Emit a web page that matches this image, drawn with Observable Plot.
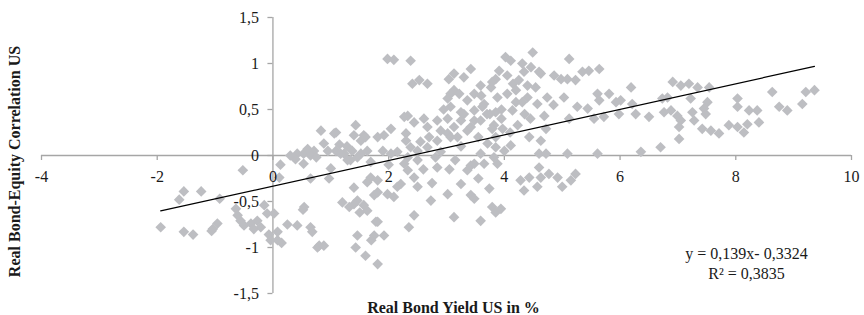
<!DOCTYPE html>
<html><head><meta charset="utf-8">
<script src="https://cdn.jsdelivr.net/npm/d3@7"></script>
<script src="https://cdn.jsdelivr.net/npm/@observablehq/plot@0.6"></script>
<style>body{margin:0;background:#fff} svg{display:block}</style>
</head><body><div id="chart"></div>
<script>
// Real bond yield US in % (x) and real bond-equity correlation US (y), same order
const bondYield = [
  -1.94,-1.54,-1.38,-1.04,-0.96,-1.54,-1.62,-1.24,-0.92,-0.52,
  -0.64,-0.61,-0.56,-0.50,-0.38,-0.27,-0.15,-0.33,-0.07,-0.04,
  -0.21,-0.10,0.02,0.08,-1.06,0.08,0.15,0.13,0.52,0.25,
  0.42,0.65,0.77,0.42,0.53,0.71,0.83,0.53,0.65,1.09,
  1.43,1.40,1.57,0.88,0.39,0.11,1.00,0.97,1.09,1.23,
  1.37,1.52,1.34,1.63,1.69,1.40,1.63,1.20,1.32,1.46,
  1.57,1.63,1.75,0.68,0.80,0.88,1.46,1.43,1.75,1.78,
  1.60,1.81,0.65,0.30,0.60,0.75,0.95,1.15,1.28,1.98,
  2.09,2.38,2.41,2.53,2.67,3.13,3.04,3.13,3.02,2.33,
  2.44,2.61,2.67,2.04,1.92,1.81,2.30,2.84,2.90,3.02,
  3.13,1.06,1.52,1.60,2.38,2.67,2.15,2.33,2.50,2.81,
  2.84,2.33,2.44,2.21,2.50,1.81,1.98,2.09,1.69,1.81,
  1.29,1.46,1.17,2.73,3.02,2.44,2.35,3.13,1.81,1.92,
  1.70,1.40,1.50,0.54,3.42,3.07,2.27,2.30,3.19,3.36,
  3.48,2.84,2.50,2.90,2.04,2.27,3.42,3.36,2.15,3.25,
  3.42,4.02,4.11,4.49,5.12,3.30,4.31,4.46,4.34,4.05,
  3.85,4.63,4.86,4.98,5.09,5.23,5.46,5.64,3.59,3.77,
  3.48,3.36,3.22,3.07,3.25,3.48,3.65,3.88,4.05,4.20,
  4.40,4.54,4.57,4.74,5.03,5.26,5.44,5.61,4.69,5.12,
  4.23,3.82,3.59,3.42,3.25,3.02,3.07,3.85,3.71,4.11,
  4.43,4.63,4.60,4.72,5.09,5.61,3.59,3.48,3.65,3.88,
  3.82,4.28,4.43,4.60,4.63,4.77,4.92,5.00,5.23,4.34,
  4.57,3.74,3.55,3.48,3.79,3.85,3.94,3.59,4.00,3.91,
  4.60,5.35,4.15,3.79,4.25,4.40,3.95,4.20,3.75,4.31,
  4.45,3.62,3.85,4.14,4.85,3.79,3.97,4.72,3.85,5.15,
  6.19,6.91,7.05,7.19,7.34,5.81,5.64,5.93,6.01,6.21,
  5.55,5.72,5.98,6.27,6.50,6.73,6.82,6.76,6.88,6.99,
  7.05,7.02,7.22,7.25,7.28,7.02,6.70,6.36,7.54,7.51,
  7.45,7.48,7.42,7.57,7.71,7.88,8.03,8.03,8.03,8.23,
  8.37,8.20,8.14,8.40,8.63,8.75,8.89,9.15,9.21,9.36,
  3.30,3.55,3.70,3.95,4.10,3.25,2.95,3.60,4.35,2.70,
  2.55,2.00,1.90,2.60,2.75,3.15,3.05
];
const correlation = [
  -0.78,-0.83,-0.86,-0.80,-0.74,-0.39,-0.48,-0.39,-0.47,-0.16,
  -0.58,-0.65,-0.71,-0.76,-0.74,-0.71,-0.54,-0.80,-0.86,-0.92,
  -0.78,-0.63,-0.63,-0.92,-0.82,-0.83,-0.95,-0.10,-0.59,-0.75,
  -0.76,-0.78,-1.00,0.02,0.02,0.05,0.27,-0.09,-0.25,0.25,
  0.33,0.22,0.22,0.13,-0.04,-0.24,-0.14,-0.25,0.05,0.02,
  0.05,0.02,-0.05,0.05,-0.07,-0.35,-0.29,-0.51,-0.56,-0.49,
  -0.54,-0.60,-0.43,-0.83,-0.98,-0.98,-0.87,-1.00,-0.87,-0.72,
  -1.09,-1.18,0.00,0.00,0.07,-0.02,0.05,0.12,0.10,1.05,
  1.04,1.03,0.78,0.82,0.78,0.89,0.83,0.71,0.62,0.43,
  0.36,0.40,0.31,0.29,0.22,0.20,0.24,0.38,0.27,0.24,
  0.31,0.24,0.16,0.20,0.09,0.09,0.04,-0.02,-0.05,-0.02,
  -0.13,-0.16,-0.24,-0.31,-0.34,-0.40,-0.42,-0.45,-0.24,-0.27,
  -0.05,-0.02,0.02,-0.49,-0.42,-0.65,-0.78,-0.67,-0.72,-0.87,
  -0.92,-0.53,-0.62,-0.56,0.94,0.67,0.42,0.16,0.20,0.27,
  0.38,0.16,0.05,0.04,0.02,-0.09,-0.11,-0.16,-0.34,-0.31,
  -0.43,1.07,1.03,1.12,1.05,0.85,1.00,0.96,0.91,0.87,
  0.83,0.89,0.87,0.83,0.83,0.82,0.92,0.94,0.76,0.74,
  0.67,0.60,0.67,0.53,0.47,0.49,0.56,0.63,0.67,0.58,
  0.63,0.74,0.56,0.63,0.63,0.53,0.51,0.67,0.43,0.40,
  0.33,0.33,0.38,0.31,0.38,0.40,0.20,0.20,0.13,0.11,
  0.20,0.16,0.02,0.02,0.02,0.02,0.02,-0.09,-0.09,-0.09,
  -0.02,-0.27,-0.24,-0.13,-0.24,-0.20,-0.24,-0.34,-0.20,-0.38,
  -0.34,-0.36,-0.25,-0.47,-0.56,-0.62,-0.58,-0.71,0.05,0.92,
  0.91,0.91,0.78,0.80,0.82,0.76,0.50,0.71,0.45,0.58,
  0.40,0.53,0.47,0.49,0.55,0.29,0.29,0.29,0.09,-0.27,
  0.74,0.80,0.76,0.78,0.74,0.67,0.60,0.58,0.60,0.56,
  0.40,0.42,0.45,0.45,0.42,0.62,0.63,0.47,0.49,0.43,
  0.38,0.31,0.62,0.47,0.38,0.18,0.09,0.04,0.74,0.58,
  0.51,0.45,0.29,0.27,0.24,0.33,0.31,0.62,0.53,0.49,
  0.49,0.34,0.25,0.36,0.69,0.53,0.49,0.56,0.69,0.71,
  0.45,0.20,0.45,0.40,0.25,0.10,0.50,0.65,0.45,0.20,
  0.15,-0.10,0.05,-0.15,-0.30,-0.05,-0.15
];
const xTicks = [-4, -2, 0, 2, 4, 6, 8, 10];
const yTicks = [-1.5, -1, -0.5, 0, 0.5, 1, 1.5];
const trendSlope = 0.139;
const trendIntercept = -0.3324;
const equationText = "y = 0,139x- 0,3324";
const r2Text = "R\u00B2 = 0,3835";
const xTitle = "Real Bond Yield US in %";
const yTitle = "Real Bond-Equity Correlation US";

const fmt = d => String(d).replace(".", ",");
const points = bondYield.map((x, i) => ({x, y: correlation[i]}));
const trend = d3.extent(bondYield).map(x => ({x, y: trendSlope * x + trendIntercept}));

const axisColor = "#a6a6a6";
const textColor = "#1a1a1a";
const serif = "'Liberation Serif','Times New Roman',serif";

const chart = Plot.plot({
  width: 864, height: 315,
  marginLeft: 41, marginRight: 13, marginTop: 17, marginBottom: 22,
  x: {domain: [-4, 10], axis: null},
  y: {domain: [-1.5, 1.5], axis: null},
  style: {fontFamily: serif, background: "white", overflow: "visible"},
  marks: [
    Plot.ruleY([0], {x1: xTicks[0], x2: xTicks[xTicks.length - 1], stroke: axisColor, strokeWidth: 1.3}),
    Plot.ruleX(xTicks, {x: d => d, y1: 0, y2: 0, insetBottom: -5, stroke: axisColor, strokeWidth: 1.3}),
    Plot.ruleX([0], {y1: yTicks[0], y2: yTicks[yTicks.length - 1], stroke: axisColor, strokeWidth: 1.3}),
    Plot.ruleY(yTicks, {y: d => d, x1: 0, x2: 0, insetLeft: -5, stroke: axisColor, strokeWidth: 1.3}),
    Plot.dot(points, {x: "x", y: "y", symbol: "diamond2", r: 4.8, fill: "#bdbec2", stroke: "none"}),
    Plot.line(trend, {x: "x", y: "y", stroke: "black", strokeWidth: 1.2}),
    Plot.text(xTicks, {x: d => d, y: 0, text: fmt, dy: 21, lineAnchor: "middle", fontSize: 16, fill: textColor}),
    Plot.text(yTicks, {x: 0, y: d => d, text: fmt, dx: -14, textAnchor: "end", lineAnchor: "middle", fontSize: 16, fill: textColor}),
    Plot.text([xTitle], {frameAnchor: "bottom", dx: 7, dy: 14, textAnchor: "middle", lineAnchor: "middle", fontWeight: "bold", fontSize: 16, fill: textColor}),
    Plot.text([yTitle], {frameAnchor: "left", dx: -27, dy: 6, rotate: -90, textAnchor: "middle", lineAnchor: "middle", fontWeight: "bold", fontSize: 16, fill: textColor}),
    Plot.text([equationText], {frameAnchor: "bottom-right", dx: -105, dy: -40, textAnchor: "middle", lineAnchor: "middle", fontSize: 16, fill: textColor}),
    Plot.text([r2Text], {frameAnchor: "bottom-right", dx: -105, dy: -20, textAnchor: "middle", lineAnchor: "middle", fontSize: 16, fill: textColor})
  ]
});
document.getElementById("chart").appendChild(chart);
</script>
</body></html>
